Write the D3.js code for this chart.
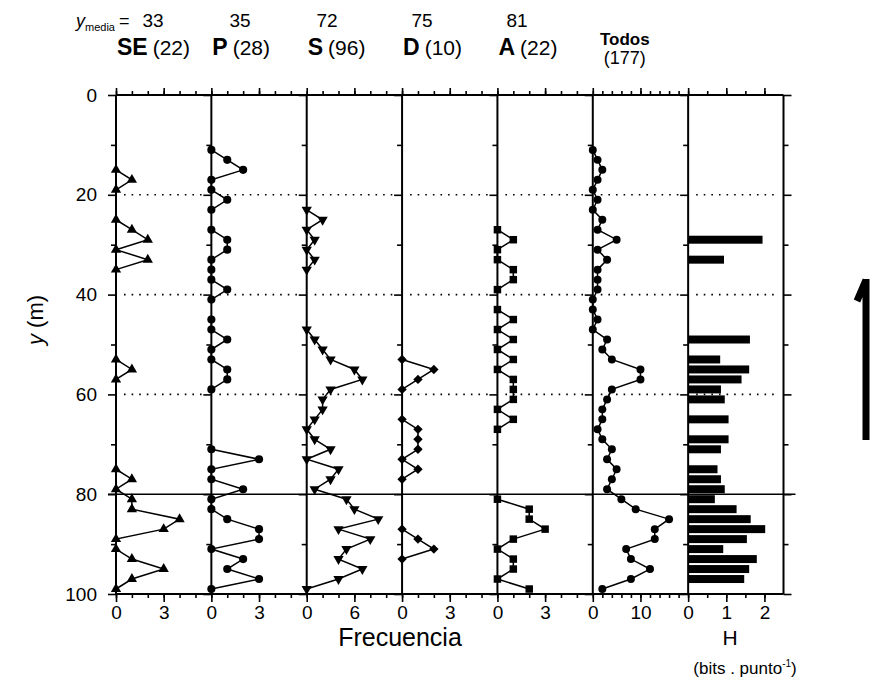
<!DOCTYPE html>
<html>
<head>
<meta charset="utf-8">
<script src="https://cdn.jsdelivr.net/npm/d3@7"></script>
<style>
  body { margin: 0; background: #fff; }
  svg { display: block; }
  text { font-family: "Liberation Sans", Arial, Helvetica, sans-serif; fill: #000; }
</style>
</head>
<body>
<svg id="chart" width="872" height="699"></svg>
<script>
// ---- data: depth y (m) and frequency per sampling level, split into sampled stretches ----
const seSegments = [
  [[15,0],[17,1],[19,0]],
  [[25,0],[27,1],[29,2],[31,0],[33,2],[35,0]],
  [[53,0],[55,1],[57,0]],
  [[75,0],[77,1],[79,0],[81,1],[83,1],[85,4],[87,3],[89,0],[91,0],[93,1],[95,3],[97,1],[99,0]]
];
const pSegments = [
  [[11,0],[13,1],[15,2],[17,0],[19,0],[21,1],[23,0]],
  [[27,0],[29,1],[31,1],[33,0],[35,0],[37,0],[39,1],[41,0]],
  [[45,0],[47,0],[49,1],[51,0],[53,0],[55,1],[57,1],[59,0]],
  [[71,0],[73,3],[75,0],[77,0],[79,2],[81,0],[83,0],[85,1],[87,3],[89,3],[91,0],[93,2],[95,1],[97,3],[99,0]]
];
const sSegments = [
  [[23,0],[25,2],[27,0],[29,1],[31,0],[33,1],[35,0]],
  [[47,0],[49,1],[51,2],[53,3],[55,6],[57,7],[59,3],[61,2],[63,2],[65,1],[67,0],[69,1],[71,3],[73,0],
   [75,4],[77,3],[79,1],[81,5],[83,6],[85,9],[87,4],[89,8],[91,5],[93,4],[95,7],[97,4],[99,0]]
];
const dSegments = [
  [[53,0],[55,2],[57,1],[59,0]],
  [[65,0],[67,1],[69,1],[71,1],[73,0],[75,1],[77,0]],
  [[87,0],[89,1],[91,2],[93,0]]
];
const aSegments = [
  [[27,0],[29,1],[31,0],[33,0],[35,1],[37,1],[39,0]],
  [[43,0],[45,1],[47,0],[49,1],[51,0],[53,1],[55,0],[57,1],[59,1],[61,1],[63,0],[65,1],[67,0]],
  [[81,0],[83,2],[85,2],[87,3],[89,1],[91,0],[93,1],[95,1],[97,0],[99,2]]
];
const todosSegments = [
  [[11,0],[13,1],[15,2],[17,1],[19,0],[21,1],[23,0],[25,2],[27,1],[29,5],[31,1],[33,3],[35,1],[37,1],
   [39,1],[41,0],[43,0],[45,1],[47,0],[49,3],[51,2],[53,4],[55,10],[57,10],[59,4],[61,3],[63,2],[65,2],
   [67,1],[69,2],[71,4],[73,3],[75,5],[77,4],[79,3],[81,6],[83,9],[85,16],[87,13],[89,13],[91,7],
   [93,8],[95,12],[97,8],[99,2]]
];
// diversity H (bits . punto^-1) by depth
const hDepths = [29,33,49,53,55,57,59,61,65,69,71,75,77,79,81,83,85,87,89,91,93,95,97];
const hValues = [1.95,0.94,1.62,0.84,1.6,1.4,0.86,0.96,1.06,1.06,0.86,0.77,0.86,0.96,0.7,1.27,1.64,2.02,1.54,0.92,1.8,1.6,1.47];

// ---- labels ----
const groupNames  = ["SE","P","S","D","A","Todos"];
const groupCounts = [22,28,96,10,22,177];
const meanDepths  = [33,35,72,75,81];
const depthTicks  = [0,10,20,30,40,50,60,70,80,90,100];
const depthLabels = [0,20,40,60,80,100];
const xMaxes      = [6,6,12,6,6,20,2.5];
const xSteps      = [1,1,2,1,1,2,0.5];
const xMajors     = [[0,3],[0,3],[0,6],[0,3],[0,3],[0,10],[0,1,2]];

// ---- layout ----
const plotLeft = 116, plotRight = 783.5, plotTop = 95, plotBottom = 594;
const nPanels = 7;
const pw = (plotRight - plotLeft) / nPanels;
const meanX = [153, 240, 327, 422, 517];
const svg = d3.select("#chart");
const y = d3.scaleLinear().domain([0, 100]).range([plotTop, plotBottom]);
const xs = xMaxes.map((m, i) =>
  d3.scaleLinear().domain([0, m]).range([plotLeft + i * pw, plotLeft + (i + 1) * pw]));

// reference depths: dotted at 20/40/60, solid at 80
const grid = svg.append("g");
[20, 40, 60].forEach(d => {
  xs.forEach(x => {
    const [a, b] = x.range();
    grid.append("line")
      .attr("x1", a + 8).attr("x2", b - 6)
      .attr("y1", y(d)).attr("y2", y(d))
      .attr("stroke", "#000").attr("stroke-width", 1.6)
      .attr("stroke-dasharray", "1.6,6");
  });
});
grid.append("line")
  .attr("x1", plotLeft - 8).attr("x2", plotRight + 12)
  .attr("y1", y(80)).attr("y2", y(80))
  .attr("stroke", "#000").attr("stroke-width", 1.4);

// axes for each panel
const tickRange = (max, step) => d3.range(0, max + step / 2, step).filter(v => v < max - 1e-9);
xs.forEach((x, i) => {
  const minor = tickRange(xMaxes[i], xSteps[i]);
  const major = xMajors[i];
  const gb = svg.append("g").attr("transform", `translate(0,${plotBottom})`);
  gb.append("g").call(d3.axisBottom(x).tickValues(minor).tickSize(4).tickFormat(""));
  gb.append("g").call(d3.axisBottom(x).tickValues(major).tickSize(8).tickPadding(4)
      .tickFormat(d3.format("d")));
  const gt = svg.append("g").attr("transform", `translate(0,${plotTop})`);
  gt.append("g").call(d3.axisTop(x).tickValues(minor).tickSize(4).tickFormat(""));
  gt.append("g").call(d3.axisTop(x).tickValues(major).tickSize(7).tickFormat(""));

  const gl = svg.append("g").attr("transform", `translate(${x.range()[0]},0)`);
  gl.append("g").call(d3.axisLeft(y).tickValues(depthTicks.filter(d => d % 20)).tickSize(5).tickFormat(""));
  gl.append("g").call(d3.axisLeft(y).tickValues(depthLabels).tickSize(8).tickPadding(11)
      .tickFormat(i === 0 ? d3.format("d") : ""));
});
const gr = svg.append("g").attr("transform", `translate(${plotRight},0)`);
gr.append("g").call(d3.axisRight(y).tickValues(depthTicks.filter(d => d % 20)).tickSize(5).tickFormat(""));
gr.append("g").call(d3.axisRight(y).tickValues(depthLabels).tickSize(8).tickFormat(""));

svg.selectAll(".domain").remove();
svg.selectAll(".tick line").attr("stroke", "#000").attr("stroke-width", 1.6);
svg.selectAll(".tick text").attr("font-size", 19).attr("fill", "#000")
  .style("font-family", '"Liberation Sans", Arial, sans-serif');

// frame
const frame = svg.append("g").attr("stroke", "#000").attr("stroke-width", 2);
frame.append("line").attr("x1", plotLeft).attr("x2", plotRight).attr("y1", plotTop).attr("y2", plotTop);
frame.append("line").attr("x1", plotLeft).attr("x2", plotRight).attr("y1", plotBottom).attr("y2", plotBottom);
d3.range(nPanels + 1).forEach(i => {
  const xx = plotLeft + i * pw;
  frame.append("line").attr("x1", xx).attr("x2", xx).attr("y1", plotTop).attr("y2", plotBottom);
});

// frequency profiles
const seriesList = [
  { segs: seSegments,    sym: d3.symbolTriangle, size: 46, rot: 0 },
  { segs: pSegments,     sym: d3.symbolCircle,   size: 52, rot: 0 },
  { segs: sSegments,     sym: d3.symbolTriangle, size: 46, rot: 180 },
  { segs: dSegments,     sym: d3.symbolSquare,   size: 44, rot: 45 },
  { segs: aSegments,     sym: d3.symbolSquare,   size: 56, rot: 0 },
  { segs: todosSegments, sym: d3.symbolCircle,   size: 50, rot: 0 }
];
seriesList.forEach((s, i) => {
  const x = xs[i];
  const line = d3.line().x(d => x(d[1])).y(d => y(d[0]));
  const g = svg.append("g");
  g.selectAll("path.ln").data(s.segs).join("path")
    .attr("class", "ln").attr("d", line)
    .attr("fill", "none").attr("stroke", "#000").attr("stroke-width", 1.5);
  const sym = d3.symbol().type(s.sym).size(s.size);
  g.selectAll("path.mk").data(s.segs.flat()).join("path")
    .attr("class", "mk").attr("d", sym)
    .attr("transform", d => `translate(${x(d[1])},${y(d[0])}) rotate(${s.rot})`)
    .attr("fill", "#000");
});

// diversity bars
const xh = xs[6];
svg.append("g").selectAll("rect").data(hDepths).join("rect")
  .attr("x", xh(0))
  .attr("y", (d) => y(d - 0.8))
  .attr("width", (d, i) => xh(hValues[i]) - xh(0))
  .attr("height", y(1.6) - y(0))
  .attr("fill", "#000");

// header: mean depth and group names with counts
const head = svg.append("g");
const yl = head.append("text").attr("x", 76).attr("y", 27).attr("font-size", 18);
yl.append("tspan").attr("font-style", "italic").text("y");
yl.append("tspan").attr("font-size", 11).attr("dy", 4).text("media");
yl.append("tspan").attr("dy", -4).attr("dx", 4).text("=");
meanDepths.forEach((m, i) => {
  head.append("text").attr("x", meanX[i]).attr("y", 27)
    .attr("text-anchor", "middle").attr("font-size", 19).text(m);
});
groupNames.forEach((n, i) => {
  const x0 = xs[i].range()[0];
  if (n === "Todos") {
    head.append("text").attr("x", x0 + 32).attr("y", 45).attr("text-anchor", "middle")
      .attr("font-size", 17).attr("font-weight", "bold").text(n);
    head.append("text").attr("x", x0 + 32).attr("y", 64).attr("text-anchor", "middle")
      .attr("font-size", 18).text(`(${groupCounts[i]})`);
  } else {
    const t = head.append("text").attr("x", x0 + 1).attr("y", 55).attr("font-size", 23);
    t.append("tspan").attr("font-weight", "bold").text(n);
    t.append("tspan").attr("font-size", 21).attr("dx", 5).text(`(${groupCounts[i]})`);
  }
});

// axis titles
const yt = svg.append("text").attr("transform", "translate(43,320) rotate(-90)")
  .attr("text-anchor", "middle").attr("font-size", 22);
yt.append("tspan").attr("font-style", "italic").text("y");
yt.append("tspan").text(" (m)");
svg.append("text").attr("x", 400).attr("y", 646).attr("text-anchor", "middle")
  .attr("font-size", 25).text("Frecuencia");
svg.append("text").attr("x", 730).attr("y", 645).attr("text-anchor", "middle")
  .attr("font-size", 21).text("H");
const bu = svg.append("text").attr("x", 745).attr("y", 674).attr("text-anchor", "middle").attr("font-size", 17);
bu.append("tspan").text("(bits . punto");
bu.append("tspan").attr("font-size", 10).attr("dy", -7).text("-1");
bu.append("tspan").attr("dy", 7).text(")");

// orientation arrow
svg.append("path")
  .attr("d", "M866,440 V279 M866,280 L857,301")
  .attr("fill", "none").attr("stroke", "#000").attr("stroke-width", 7)
  .attr("stroke-linejoin", "miter");
</script>
</body>
</html>
